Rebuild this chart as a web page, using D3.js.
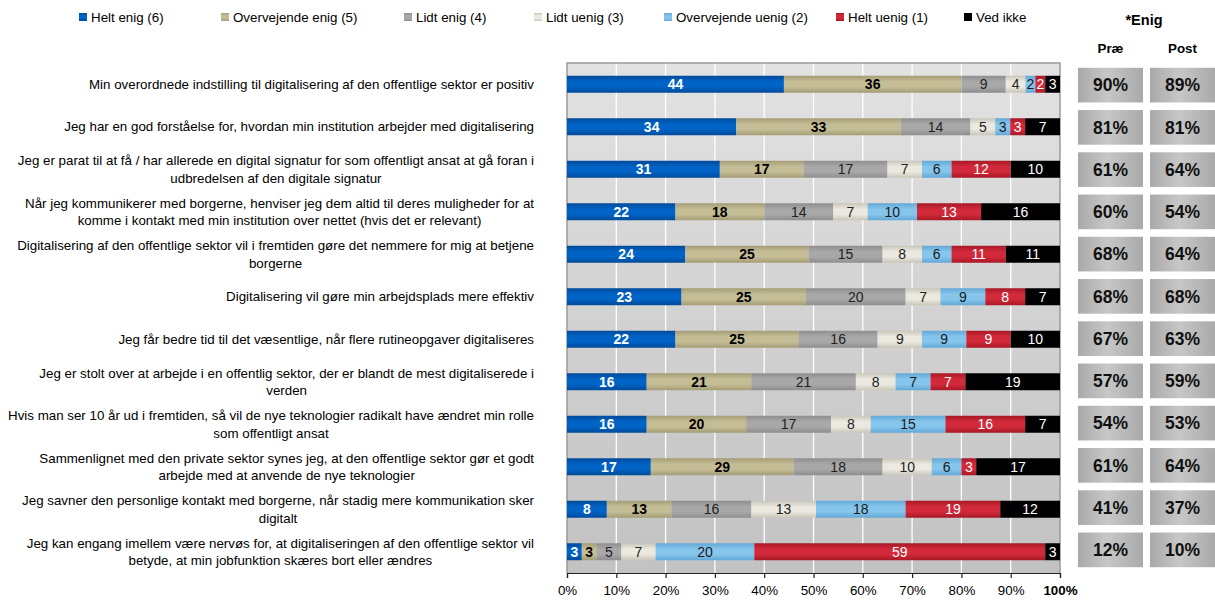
<!DOCTYPE html>
<html>
<head>
<meta charset="utf-8">
<script src="https://cdn.jsdelivr.net/npm/d3@7"></script>
<style>
  html, body { margin: 0; padding: 0; background: #fff; }
  svg { display: block; font-family: "Liberation Sans", Arial, sans-serif; }
</style>
</head>
<body>
<svg id="chart" width="1215" height="601"></svg>
<script>
// Statements (one per row, line breaks where the label wraps)
const categories = [
  "Min overordnede indstilling til digitalisering af den offentlige sektor er positiv",
  "Jeg har en god forståelse for, hvordan min institution arbejder med digitalisering",
  "Jeg er parat til at få / har allerede en digital signatur for som offentligt ansat at gå foran i\nudbredelsen af den digitale signatur",
  "Når jeg kommunikerer med borgerne, henviser jeg dem altid til deres muligheder for at\nkomme i kontakt med min institution over nettet (hvis det er relevant)",
  "Digitalisering af den offentlige sektor vil i fremtiden gøre det nemmere for mig at betjene\nborgerne",
  "Digitalisering vil gøre min arbejdsplads mere effektiv",
  "Jeg får bedre tid til det væsentlige, når flere rutineopgaver digitaliseres",
  "Jeg er stolt over at arbejde i en offentlig sektor, der er blandt de mest digitaliserede i\nverden",
  "Hvis man ser 10 år ud i fremtiden, så vil de nye teknologier radikalt have ændret min rolle\nsom offentligt ansat",
  "Sammenlignet med den private sektor synes jeg, at den offentlige sektor gør et godt\narbejde med at anvende de nye teknologier",
  "Jeg savner den personlige kontakt med borgerne, når stadig mere kommunikation sker\ndigitalt",
  "Jeg kan engang imellem være nervøs for, at digitaliseringen af den offentlige sektor vil\nbetyde, at min jobfunktion skæres bort eller ændres"
];

// Answer distribution (%) per statement
const heltEnig         = [44, 34, 31, 22, 24, 23, 22, 16, 16, 17,  8,  3];
const overvejendeEnig  = [36, 33, 17, 18, 25, 25, 25, 21, 20, 29, 13,  3];
const lidtEnig         = [ 9, 14, 17, 14, 15, 20, 16, 21, 17, 18, 16,  5];
const lidtUenig        = [ 4,  5,  7,  7,  8,  7,  9,  8,  8, 10, 13,  7];
const overvejendeUenig = [ 2,  3,  6, 10,  6,  9,  9,  7, 15,  6, 18, 20];
const heltUenig        = [ 2,  3, 12, 13, 11,  8,  9,  7, 16,  3, 19, 59];
const vedIkke          = [ 3,  7, 10, 16, 11,  7, 10, 19,  7, 17, 12,  3];

// Share that agrees, before and after
const enigPrae = [90, 81, 61, 60, 68, 68, 67, 57, 54, 61, 41, 12];
const enigPost = [89, 81, 64, 54, 64, 68, 63, 59, 53, 64, 37, 10];

const seriesNames = ["Helt enig (6)", "Overvejende enig (5)", "Lidt enig (4)", "Lidt uenig (3)",
                     "Overvejende uenig (2)", "Helt uenig (1)", "Ved ikke"];
const seriesValues = [heltEnig, overvejendeEnig, lidtEnig, lidtUenig, overvejendeUenig, heltUenig, vedIkke];
const xTickValues = [0, 0.1, 0.2, 0.3, 0.4, 0.5, 0.6, 0.7, 0.8, 0.9, 1];

// Styling per series: base colour, edge shade, label colour, label weight
const seriesStyle = [
  { base: "#0063c6", edge: "#004a9a", text: "#ffffff", weight: "bold" },
  { base: "#c4bd95", edge: "#a39c74", text: "#000000", weight: "bold" },
  { base: "#a8a8a8", edge: "#8e8e8e", text: "#222222", weight: "normal" },
  { base: "#ebe9e0", edge: "#c9c6b8", text: "#222222", weight: "normal" },
  { base: "#86c5ec", edge: "#62a8d6", text: "#1a1a1a", weight: "normal" },
  { base: "#d22a3a", edge: "#a81826", text: "#ffffff", weight: "normal" },
  { base: "#000000", edge: "#000000", text: "#ffffff", weight: "normal" }
];

const baseFont = 13.33;

const svg = d3.select("#chart");
const defs = svg.append("defs");

// Plot area
const plot = { left: 567, right: 1060, top: 63, bottom: 573 };

const x = d3.scaleLinear().domain([0, 1]).range([plot.left, plot.right]);
const y = d3.scaleBand().domain(d3.range(categories.length))
  .range([plot.top, plot.bottom]).paddingInner(0.6).paddingOuter(0.3);

// Gradients
const bgGrad = defs.append("linearGradient").attr("id", "plotBg")
  .attr("x1", 0).attr("y1", 0).attr("x2", 0).attr("y2", 1);
bgGrad.append("stop").attr("offset", "0%").attr("stop-color", "#e2e2e2");
bgGrad.append("stop").attr("offset", "100%").attr("stop-color", "#c2c2c2");

seriesStyle.forEach((s, i) => {
  const g = defs.append("linearGradient").attr("id", "bar" + i)
    .attr("x1", 0).attr("y1", 0).attr("x2", 0).attr("y2", 1);
  g.append("stop").attr("offset", "0%").attr("stop-color", s.edge);
  g.append("stop").attr("offset", "35%").attr("stop-color", s.base);
  g.append("stop").attr("offset", "65%").attr("stop-color", s.base);
  g.append("stop").attr("offset", "100%").attr("stop-color", s.edge);
});

const boxGrad = defs.append("linearGradient").attr("id", "boxBg")
  .attr("x1", 0).attr("y1", 0).attr("x2", 1).attr("y2", 0);
boxGrad.append("stop").attr("offset", "0%").attr("stop-color", "#a9a9a9");
boxGrad.append("stop").attr("offset", "45%").attr("stop-color", "#c7c7c7");
boxGrad.append("stop").attr("offset", "100%").attr("stop-color", "#a9a9a9");

// Background
svg.append("rect")
  .attr("x", plot.left).attr("y", plot.top)
  .attr("width", plot.right - plot.left).attr("height", plot.bottom - plot.top)
  .attr("fill", "url(#plotBg)");

// Vertical gridlines
svg.append("g").selectAll("line")
  .data(xTickValues.slice(1, -1))
  .join("line")
  .attr("x1", d => x(d)).attr("x2", d => x(d))
  .attr("y1", plot.top).attr("y2", plot.bottom)
  .attr("stroke", "#ffffff").attr("stroke-width", 1.3);

// Plot border (left, top, right)
svg.append("path")
  .attr("d", `M${plot.left},${plot.bottom}V${plot.top}H${plot.right}V${plot.bottom}`)
  .attr("fill", "none").attr("stroke", "#9a9a9a").attr("stroke-width", 1.5);

// Stack rows as shares of 100 %
const rows = categories.map((c, i) => {
  const r = { idx: i };
  seriesValues.forEach((arr, k) => { r[k] = arr[i]; });
  return r;
});
const stack = d3.stack().keys(d3.range(seriesValues.length)).offset(d3.stackOffsetExpand);
const layers = stack(rows);

const barG = svg.append("g");
layers.forEach((layer, k) => {
  const st = seriesStyle[k];
  const g = barG.append("g");
  g.selectAll("rect").data(layer).join("rect")
    .attr("x", d => x(d[0]))
    .attr("y", d => y(d.data.idx))
    .attr("width", d => x(d[1]) - x(d[0]))
    .attr("height", y.bandwidth())
    .attr("fill", `url(#bar${k})`);
  g.selectAll("text").data(layer).join("text")
    .attr("x", d => (x(d[0]) + x(d[1])) / 2)
    .attr("y", d => y(d.data.idx) + y.bandwidth() / 2)
    .attr("dy", "0.36em")
    .attr("text-anchor", "middle")
    .attr("font-size", 14)
    .attr("font-weight", st.weight)
    .attr("fill", st.text)
    .text(d => d.data[k]);
});

// X axis
const xAxis = d3.axisBottom(x).tickValues(xTickValues)
  .tickFormat(d3.format(".0%")).tickSize(5).tickPadding(8);
const axisG = svg.append("g").attr("transform", `translate(0,${plot.bottom})`).call(xAxis);
axisG.select(".domain").attr("stroke", "#222").attr("stroke-width", 1.2);
axisG.selectAll(".tick line").attr("stroke", "#222").attr("stroke-width", 1.2);
axisG.selectAll(".tick text")
  .attr("font-size", baseFont)
  .attr("font-family", "Liberation Sans, Arial, sans-serif")
  .attr("fill", "#000")
  .attr("font-weight", d => d === 1 ? "bold" : "normal");

// Category labels: each block right-aligned, lines centred within the block
const labelRight = 534;
const lineH = 17.5;
const catG = svg.append("g");
categories.forEach((c, i) => {
  const lines = c.split("\n");
  const cy = y(i) + y.bandwidth() / 2;
  const t = catG.append("text")
    .attr("font-size", baseFont).attr("fill", "#000").attr("text-anchor", "middle");
  const spans = lines.map((ln, j) => t.append("tspan")
    .attr("y", cy + (j - (lines.length - 1) / 2) * lineH)
    .attr("dy", "0.35em")
    .text(ln));
  const w = d3.max(spans, s => s.node().getComputedTextLength());
  spans.forEach(s => s.attr("x", labelRight - w / 2));
});

// Legend
const legendX = [79, 221, 404, 534, 664, 836, 964];
const legG = svg.append("g");
seriesNames.forEach((name, k) => {
  legG.append("rect")
    .attr("x", legendX[k]).attr("y", 13).attr("width", 8).attr("height", 8)
    .attr("fill", `url(#bar${k})`);
  legG.append("text")
    .attr("x", legendX[k] + 12).attr("y", 17).attr("dy", "0.35em")
    .attr("font-size", baseFont).attr("fill", "#000")
    .text(name);
});

// Agreement panel
const boxY = d3.scaleBand().domain(d3.range(categories.length))
  .range([64, 571]).paddingInner(0.18).paddingOuter(0.09);
const colX = { prae: 1078, post: 1150 };
const boxW = 65;

svg.append("text").attr("x", 1144).attr("y", 20).attr("dy", "0.35em")
  .attr("text-anchor", "middle").attr("font-size", 14.5).attr("font-weight", "bold")
  .text("*Enig");
svg.append("text").attr("x", colX.prae + boxW / 2).attr("y", 48).attr("dy", "0.35em")
  .attr("text-anchor", "middle").attr("font-size", baseFont).attr("font-weight", "bold")
  .text("Præ");
svg.append("text").attr("x", colX.post + boxW / 2).attr("y", 48).attr("dy", "0.35em")
  .attr("text-anchor", "middle").attr("font-size", baseFont).attr("font-weight", "bold")
  .text("Post");

[["prae", enigPrae], ["post", enigPost]].forEach(([key, vals]) => {
  const g = svg.append("g");
  g.selectAll("rect").data(vals).join("rect")
    .attr("x", colX[key]).attr("y", (d, i) => boxY(i))
    .attr("width", boxW).attr("height", boxY.bandwidth())
    .attr("fill", "url(#boxBg)");
  g.selectAll("text").data(vals).join("text")
    .attr("x", colX[key] + boxW / 2)
    .attr("y", (d, i) => boxY(i) + boxY.bandwidth() / 2)
    .attr("dy", "0.36em")
    .attr("text-anchor", "middle")
    .attr("font-size", 17.5).attr("font-weight", "bold").attr("fill", "#111")
    .text(d => d + "%");
});
</script>
</body>
</html>
